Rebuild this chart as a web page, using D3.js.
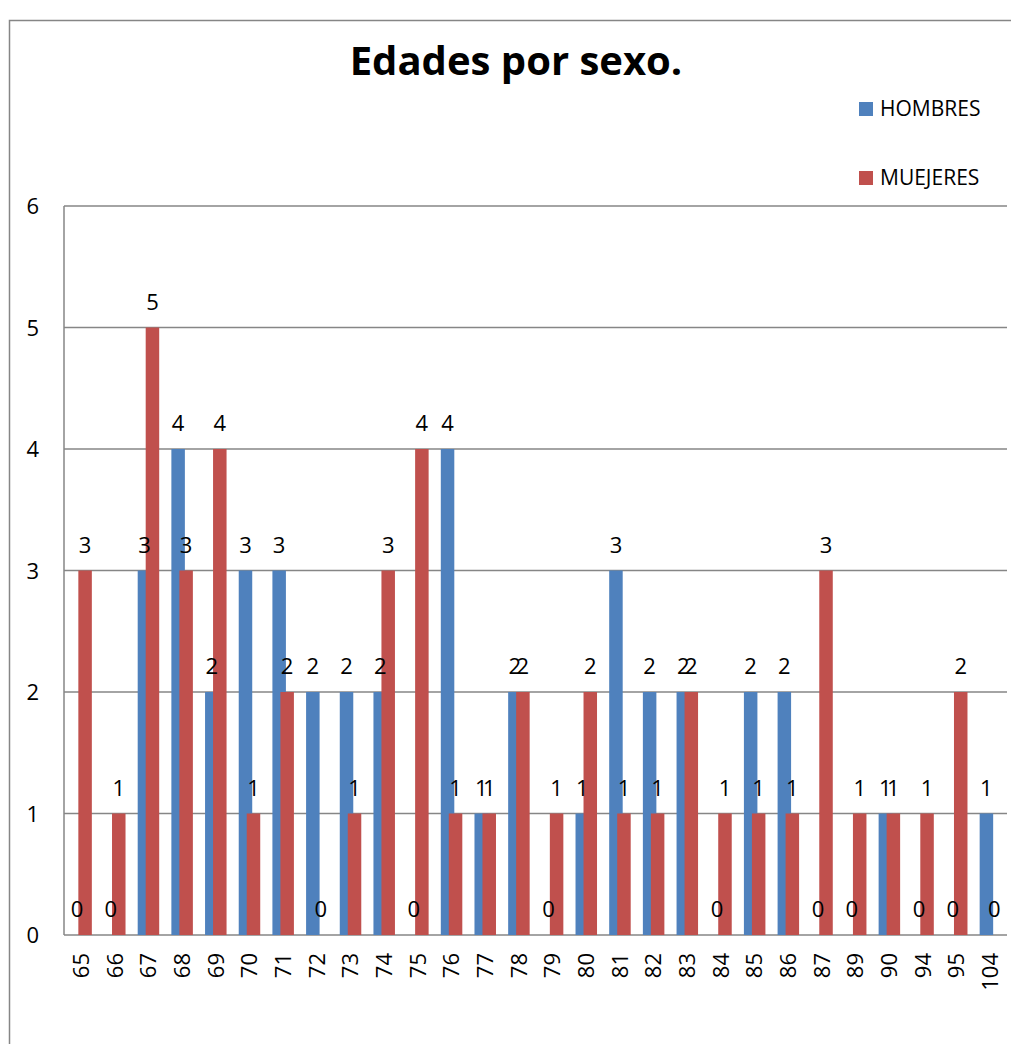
<!DOCTYPE html>
<html>
<head>
<meta charset="utf-8">
<script src="https://cdn.jsdelivr.net/npm/d3@7"></script>
<style>
  body { margin: 0; background: #fff; }
  svg { display: block; font-family: "Open Sans", "Noto Sans", sans-serif; }
</style>
</head>
<body>
<svg id="chart"></svg>
<script>
// Edades (categorias)
const ages = ["65", "66", "67", "68", "69", "70", "71", "72", "73", "74", "75", "76", "77", "78",
  "79", "80", "81", "82", "83", "84", "85", "86", "87", "89", "90", "94", "95", "104"];
const hombres = [0, 0, 3, 4, 2, 3, 3, 2, 2, 2, 0, 4, 1, 2, 0, 1, 3, 2, 2, 0, 2, 2, 0, 0, 1, 0, 0, 1];
const mujeres = [3, 1, 5, 3, 4, 1, 2, 0, 1, 3, 4, 1, 1, 2, 1, 2, 1, 1, 2, 1, 1, 1, 3, 1, 1, 1, 2, 0];
const yTicks = [0, 1, 2, 3, 4, 5, 6];

const series = [
  { name: "HOMBRES", values: hombres, color: "#4F81BD", offset: -10.5 },
  { name: "MUEJERES", values: mujeres, color: "#C0504D", offset: -2.5 },
];

const width = 1011, height = 1044;
const margin = { top: 206, right: 4, bottom: 109, left: 64 };
const barW = 13.5;

const svg = d3.select("#chart").attr("width", width).attr("height", height);

// outer chart border
svg.append("rect")
  .attr("x", 9.5).attr("y", 20.5)
  .attr("width", width + 20).attr("height", height + 20)
  .attr("fill", "none").attr("stroke", "#868686").attr("stroke-width", 1.5);

// title
svg.append("text")
  .attr("x", 516).attr("y", 75)
  .attr("text-anchor", "middle")
  .attr("font-size", 40).attr("font-weight", "bold")
  .text("Edades por sexo.");

const x = d3.scaleBand()
  .domain(ages)
  .range([margin.left, width - margin.right]);

const y = d3.scaleLinear()
  .domain([0, 6])
  .range([height - margin.bottom, margin.top]);

// gridlines
svg.append("g")
  .selectAll("line")
  .data(yTicks)
  .join("line")
  .attr("x1", margin.left).attr("x2", width - margin.right)
  .attr("y1", (d) => y(d)).attr("y2", (d) => y(d))
  .attr("stroke", "#868686").attr("stroke-width", 1.5);

// y axis line
svg.append("line")
  .attr("x1", margin.left).attr("x2", margin.left)
  .attr("y1", y(0)).attr("y2", y(6))
  .attr("stroke", "#868686").attr("stroke-width", 1.5);

// y tick labels
svg.append("g")
  .selectAll("text")
  .data(yTicks)
  .join("text")
  .attr("x", 39).attr("y", (d) => y(d) + 8)
  .attr("text-anchor", "end")
  .attr("font-size", 22)
  .text((d) => d);

// bars
series.forEach((s) => {
  svg.append("g")
    .attr("fill", s.color)
    .selectAll("rect")
    .data(s.values)
    .join("rect")
    .attr("x", (d, i) => x(ages[i]) + x.bandwidth() / 2 + s.offset)
    .attr("y", (d) => y(d))
    .attr("width", barW)
    .attr("height", (d) => y(0) - y(d));
});

// data labels
series.forEach((s) => {
  svg.append("g")
    .selectAll("text")
    .data(s.values)
    .join("text")
    .attr("x", (d, i) => x(ages[i]) + x.bandwidth() / 2 + s.offset + barW / 2)
    .attr("y", (d) => y(d) - 18)
    .attr("text-anchor", "middle")
    .attr("font-size", 22)
    .text((d) => d);
});

// x tick labels (rotated)
svg.append("g")
  .selectAll("text")
  .data(ages)
  .join("text")
  .attr("transform", (d) => `translate(${x(d) + x.bandwidth() / 2 + 8},953) rotate(-90)`)
  .attr("text-anchor", "end")
  .attr("font-size", 22)
  .text((d) => d);

// legend
const legend = svg.append("g");
series.forEach((s, i) => {
  const ly = 102 + i * 69;
  legend.append("rect")
    .attr("x", 859).attr("y", ly)
    .attr("width", 14).attr("height", 14)
    .attr("fill", s.color);
  legend.append("text")
    .attr("x", 880).attr("y", ly + 14)
    .attr("font-size", 21)
    .text(s.name);
});
</script>
</body>
</html>
